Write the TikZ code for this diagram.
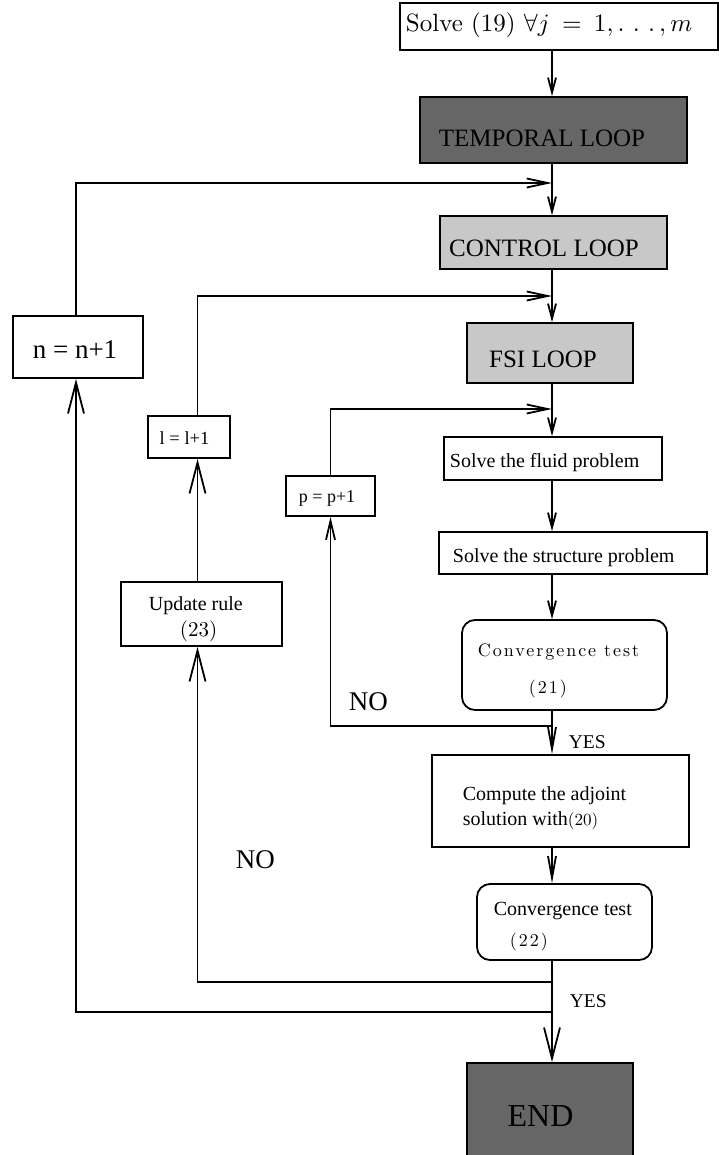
\documentclass[tikz,border=0pt]{standalone}
\usepackage{fontspec}
\newfontfamily\tms{Liberation Serif}
\newfontfamily\lmten{lmroman10-regular}[Extension=.otf]
\newfontfamily\lmls{lmroman10-regular}[Extension=.otf,LetterSpace=11]
\usetikzlibrary{arrows.meta,calc}
\definecolor{darkbox}{HTML}{666666}
\definecolor{lightbox}{HTML}{C8C8C8}
\begin{document}
\begin{tikzpicture}[x=1pt,y=-1pt,line width=1.8pt,
  box/.style={draw, inner sep=0pt, line width=1.8pt},
  tm/.style={inner sep=0pt, font={\tms\fontsize{#1}{#1}\selectfont}},
  cm/.style={inner sep=0pt, font={\lmten\fontsize{#1}{#1}\selectfont}},
  cmls/.style={inner sep=0pt, font={\lmls\fontsize{#1}{#1}\selectfont}},
  sa/.style={-{Straight Barb[length=15pt,width=8pt]}},
  sb/.style={-{Straight Barb[length=22pt,width=8pt]}},
  ha/.style={-{Straight Barb[length=21pt,width=9pt]}},
  pa/.style={-{Straight Barb[length=19pt,width=9pt]}},
  ba/.style={-{Straight Barb[length=31pt,width=16pt]}}]
\useasboundingbox (0,0) rectangle (719,1155);
% boxes
\node[box, minimum width=318, minimum height=47] (top) at (559,26.5) {};
\node[box, fill=darkbox, minimum width=267, minimum height=66] (temporal) at (553.5,130) {};
\node[box, fill=lightbox, minimum width=227, minimum height=53] (control) at (553.5,242.5) {};
\node[box, fill=lightbox, minimum width=166, minimum height=60] (fsi) at (550,353) {};
\node[box, minimum width=218, minimum height=43] (fluid) at (553,458.5) {};
\node[box, minimum width=268, minimum height=42] (struct) at (573,553) {};
\node[box, rounded corners=13pt, minimum width=205, minimum height=90] (conv1) at (564.5,665) {};
\node[box, minimum width=257, minimum height=92] (compute) at (560.5,801) {};
\node[box, rounded corners=13pt, minimum width=175, minimum height=76] (conv2) at (564.5,922) {};
\node[box, fill=darkbox, minimum width=166, minimum height=110] (endb) at (550,1118) {};
\node[box, minimum width=130, minimum height=62] (nbox) at (78,347) {};
\node[box, minimum width=82, minimum height=42] (lbox) at (189,437) {};
\node[box, minimum width=89, minimum height=40] (pbox) at (330.5,496) {};
\node[box, minimum width=161, minimum height=64] (update) at (201.5,614) {};
% texts
\node[inner sep=0pt, anchor=base west] (topT) at (405,32) {\scalebox{2.5}{\lmten\fontsize{10}{12}\selectfont Solve (19) $\thickmuskip=9mu\forall j=1,\mathinner{\ldotp\mkern3mu\ldotp\mkern3mu\ldotp},m$}};
\node[tm=25, anchor=base] (temporalT) at (542,147) {TEMPORAL LOOP};
\node[tm=25, anchor=base] (controlT) at (544,257) {CONTROL LOOP};
\node[tm=25, anchor=base] (fsiT) at (543,367) {FSI LOOP};
\node[tm=20, anchor=base west] (fluidT) at (449,467) {Solve the fluid problem};
\node[tm=20, anchor=base west] (structT) at (452,562) {Solve the structure problem};
\node[cmls=18, anchor=base west] (conv1T) at (477,656) {Convergence test};
\node[cmls=18, anchor=base west] (conv1N) at (528,693) {(21)};
\node[tm=27, anchor=base west] (no1) at (348,710) {NO};
\node[tm=19.5, anchor=base west] (yes1) at (568,748) {YES};
\node[tm=20, anchor=base west] (computeT1) at (462,800) {Compute the adjoint};
\node[tm=20, anchor=base west] (computeT2) at (462,825) {solution with{\lmten\fontsize{17}{17}\selectfont(20)}};
\node[tm=20, anchor=base west] (conv2T) at (493,915) {Convergence test};
\node[cmls=18, anchor=base west] (conv2N) at (509,946) {(22)};
\node[tm=19.5, anchor=base west] (yes2) at (569,1007) {YES};
\node[tm=32, anchor=base] (endT) at (540.5,1126) {END};
\node[tm=27, anchor=base west] (no2) at (235,868) {NO};
\node[tm=27, anchor=base] (nT) at (75,358) {n = n+1};
\node[tm=18.5, anchor=base] (lT) at (184.5,444) {l = l+1};
\node[tm=18, anchor=base] (pT) at (327,502) {p = p+1};
\node[tm=20, anchor=base west] (updT) at (148,610) {Update rule};
\node[cm=21, anchor=base west] (updN) at (179,636) {(23)};
% junction coordinates
\coordinate (cx) at (552,0);
\coordinate (lx) at (197.5,0);
\coordinate (nx) at (76,0);
\coordinate (j1) at (552,183);
\coordinate (j2) at (552,296);
\coordinate (j3) at (552,409);
\coordinate (k1) at (552,726);
\coordinate (k2) at (552,982);
\coordinate (k3) at (552,1012);
% connectors
\draw[sa] (top.south -| cx) -- (temporal.north -| cx);
\draw[sa] (temporal.south -| cx) -- (control.north -| cx);
\draw[sa] (control.south -| cx) -- (fsi.north -| cx);
\draw[sa] (fsi.south -| cx) -- (fluid.north -| cx);
\draw[sa] (fluid.south -| cx) -- (struct.north -| cx);
\draw[sa] (struct.south -| cx) -- (conv1.north -| cx);
\draw[sb] (conv1.south -| cx) -- (compute.north -| cx);
\draw[sb] (compute.south -| cx) -- (conv2.north -| cx);
\draw[ba] (conv2.south -| cx) -- (endb.north -| cx);
\draw[ha] (nbox.north -| nx) |- (j1);
\draw[ha] (lbox.north -| lx) |- (j2);
\draw[ha] (pbox.north) |- (j3);
\draw[pa] (k1) -| (pbox.south);
\draw[ba] (update.north -| lx) -- (lbox.south -| lx);
\draw[ba] (k2) -| (update.south -| lx);
\draw[ba] (k3) -| (nbox.south -| nx);
\end{tikzpicture}
\end{document}
